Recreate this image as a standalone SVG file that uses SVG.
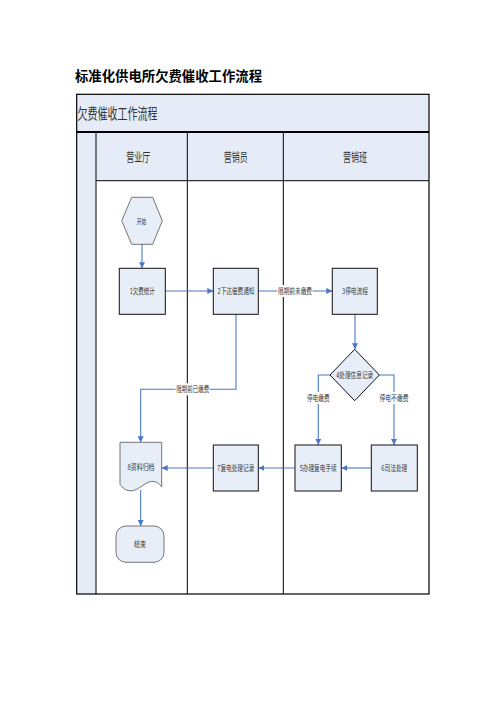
<svg xmlns="http://www.w3.org/2000/svg" width="496" height="702" viewBox="0 0 496 702">
<style>
text{font-family:"Noto Sans CJK SC","Liberation Sans",sans-serif;fill:#222}
.t{font-size:8px;text-anchor:middle;fill:#333}
.h{font-size:12.5px;text-anchor:middle;fill:#333}
.box{fill:#E8EEF8;stroke:#111;stroke-width:1}
.soft{fill:#E8EEF8;stroke:#666;stroke-width:0.9}
.ln{fill:none;stroke:#4A78C6;stroke-width:1.1}
.lbl{fill:#fff}
.frame{fill:none;stroke:#000;stroke-width:1.2}
</style>
<defs>
<marker id="ah" viewBox="0 0 10 10" refX="10" refY="5" markerWidth="6" markerHeight="6" markerUnits="userSpaceOnUse" orient="auto">
<path d="M0,0 L10,5 L0,10 z" fill="#4A78C6"/>
</marker>
</defs>
<rect width="496" height="702" fill="#fff"/>
<text x="75" y="81" style="font-size:13.5px;font-weight:bold;fill:#000" textLength="187" lengthAdjust="spacingAndGlyphs">标准化供电所欠费催收工作流程</text>
<g id="pool">
<rect x="76.7" y="94.3" width="352.3" height="37.7" fill="#E6ECF7"/>
<rect x="76.7" y="132" width="19.3" height="462" fill="#E6ECF7"/>
<rect x="96" y="132" width="333" height="48.7" fill="#E6ECF7"/>
<text x="77.5" y="119" style="font-size:15px;fill:#333" textLength="80" lengthAdjust="spacingAndGlyphs">欠费催收工作流程</text>
<rect class="frame" x="76.7" y="94.3" width="352.3" height="499.7"/>
<line x1="76.7" y1="132" x2="429" y2="132" stroke="#000" stroke-width="2"/>
<line x1="96" y1="132" x2="96" y2="594" stroke="#000" stroke-width="1"/>
<line x1="187.3" y1="132" x2="187.3" y2="594" stroke="#000" stroke-width="1"/>
<line x1="283.3" y1="132" x2="283.3" y2="594" stroke="#000" stroke-width="1"/>
<line x1="96" y1="180.7" x2="429" y2="180.7" stroke="#000" stroke-width="1"/>
<text class="h" x="138.3" y="162" textLength="24" lengthAdjust="spacingAndGlyphs">营业厅</text>
<text class="h" x="235.7" y="162" textLength="24" lengthAdjust="spacingAndGlyphs">营销员</text>
<text class="h" x="355" y="162" textLength="24" lengthAdjust="spacingAndGlyphs">营销班</text>
</g>
<g id="connectors">
<line class="ln" x1="142" y1="244" x2="142" y2="268.3" marker-end="url(#ah)"/>
<line class="ln" x1="165.3" y1="291" x2="213.3" y2="291" marker-end="url(#ah)"/>
<line class="ln" x1="258.3" y1="291" x2="332.3" y2="291" marker-end="url(#ah)"/>
<line class="ln" x1="355" y1="314.3" x2="355" y2="349.3" marker-end="url(#ah)"/>
<polyline class="ln" points="330,375 318.3,375 318.3,445" marker-end="url(#ah)"/>
<polyline class="ln" points="379.3,375 394,375 394,445" marker-end="url(#ah)"/>
<line class="ln" x1="371.3" y1="468" x2="341.3" y2="468" marker-end="url(#ah)"/>
<line class="ln" x1="295" y1="468" x2="258.3" y2="468" marker-end="url(#ah)"/>
<line class="ln" x1="213.3" y1="468" x2="161.7" y2="468" marker-end="url(#ah)"/>
<polyline class="ln" points="236,314.3 236,389.3 140.7,389.3 140.7,442.3" marker-end="url(#ah)"/>
<line class="ln" x1="140.7" y1="490" x2="140.7" y2="526" marker-end="url(#ah)"/>
<rect class="lbl" x="277.5" y="285" width="35" height="12"/>
<text class="t" x="295" y="294" textLength="34" lengthAdjust="spacingAndGlyphs">限期前未缴费</text>
<rect class="lbl" x="175.5" y="383.3" width="34" height="12"/>
<text class="t" x="192.7" y="392.3" textLength="33" lengthAdjust="spacingAndGlyphs">限期前已缴费</text>
<rect class="lbl" x="306.5" y="392" width="23.5" height="12"/>
<text class="t" x="318.3" y="401" textLength="22.7" lengthAdjust="spacingAndGlyphs">停电缴费</text>
<rect class="lbl" x="379" y="392" width="30" height="12"/>
<text class="t" x="394" y="401" textLength="29" lengthAdjust="spacingAndGlyphs">停电不缴费</text>
</g>
<g id="start">
<polygon class="soft" points="121.7,220.8 131.7,197.3 152.7,197.3 162.3,220.8 152.7,244.3 131.7,244.3"/>
<text class="t" x="141.5" y="223.5" textLength="9.5" lengthAdjust="spacingAndGlyphs" style="font-size:7px">开始</text>
</g>
<g id="n1">
<rect class="box" x="119.3" y="268.3" width="46" height="46"/>
<text class="t" x="142.3" y="294" textLength="25" lengthAdjust="spacingAndGlyphs">1欠费统计</text>
</g>
<g id="n2">
<rect class="box" x="213.3" y="268.3" width="45" height="46"/>
<text class="t" x="236" y="294" textLength="37" lengthAdjust="spacingAndGlyphs">2下达催费通知</text>
</g>
<g id="n3">
<rect class="box" x="332.3" y="268.3" width="45" height="46"/>
<text class="t" x="355" y="294" textLength="26" lengthAdjust="spacingAndGlyphs">3停电流程</text>
</g>
<g id="n4">
<polygon class="box" points="354.7,349.3 379.3,375 354.7,400.7 330,375"/>
<text class="t" x="354.7" y="378" textLength="37" lengthAdjust="spacingAndGlyphs">4处理信息记录</text>
</g>
<g id="n5">
<rect class="box" x="295" y="445" width="46.3" height="46"/>
<text class="t" x="318.2" y="471" textLength="37" lengthAdjust="spacingAndGlyphs">5办理复电手续</text>
</g>
<g id="n6">
<rect class="box" x="371.3" y="445" width="46" height="46"/>
<text class="t" x="394.3" y="471" textLength="26" lengthAdjust="spacingAndGlyphs">6司法处理</text>
</g>
<g id="n7">
<rect class="box" x="213.3" y="445" width="45" height="46"/>
<text class="t" x="235.8" y="471" textLength="37" lengthAdjust="spacingAndGlyphs">7复电处理记录</text>
</g>
<g id="n8">
<path class="soft" d="M120,442.3 H161.7 V486.7 C157,481 153,480.5 148,482.5 C141,485.5 136,492.5 128,490.5 C124,489.5 122,487 120,484.3 Z"/>
<text class="t" x="141" y="470" textLength="27" lengthAdjust="spacingAndGlyphs">8资料归档</text>
</g>
<g id="end">
<rect class="soft" x="116" y="526" width="48" height="36.3" rx="10" ry="10"/>
<text class="t" x="140" y="547" textLength="12" lengthAdjust="spacingAndGlyphs" style="font-size:7.5px">结束</text>
</g>
</svg>
